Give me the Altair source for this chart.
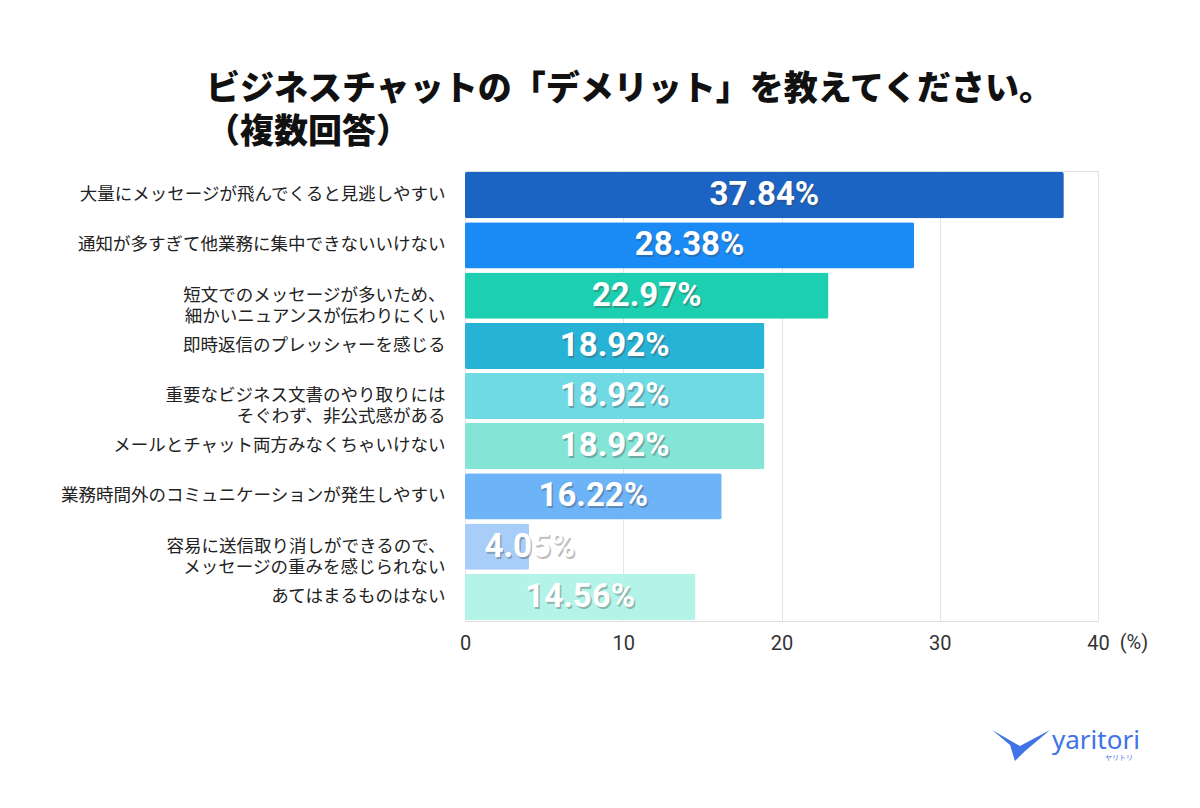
import altair as alt
import pandas as pd

categories = [
    "大量にメッセージが飛んでくると見逃しやすい",
    "通知が多すぎて他業務に集中できないいけない",
    "短文でのメッセージが多いため、|細かいニュアンスが伝わりにくい",
    "即時返信のプレッシャーを感じる",
    "重要なビジネス文書のやり取りには|そぐわず、非公式感がある",
    "メールとチャット両方みなくちゃいけない",
    "業務時間外のコミュニケーションが発生しやすい",
    "容易に送信取り消しができるので、|メッセージの重みを感じられない",
    "あてはまるものはない",
]
values = [37.84, 28.38, 22.97, 18.92, 18.92, 18.92, 16.22, 4.05, 14.56]
colors = ["#1c64c4", "#1a8af5", "#1ccfb1", "#27b3d5", "#70dae4",
          "#84e4d5", "#6cb3f8", "#a8cdf8", "#b4f4e8"]
x_ticks = [0, 10, 20, 30, 40]
title_lines = ["ビジネスチャットの「デメリット」を教えてください。", "（複数回答）"]
unit_label = "(%)"
logo_text = "yaritori"
logo_sub = "ヤリトリ"

df = pd.DataFrame({"item": categories, "value": values})
df["label"] = [f"{v:.2f}%" for v in values]

W, H = 633, 450
JP = "Noto Sans CJK JP"

y_enc = alt.Y(
    "item:N", sort=categories, title=None,
    scale=alt.Scale(paddingInner=0.08, paddingOuter=0.02),
    axis=alt.Axis(
        labelExpr="split(datum.label, '|')",
        labelFont=JP, labelFontSize=17.5, labelColor="#222222",
        labelLineHeight=21, labelPadding=20, labelLimit=500,
        ticks=False, domain=False, grid=False,
    ),
)
x_scale = alt.Scale(domain=[0, 40], nice=False)

base = alt.Chart(df)

bars = base.mark_bar(cornerRadius=2).encode(
    x=alt.X(
        "value:Q", scale=x_scale, title=None,
        axis=alt.Axis(
            values=x_ticks, labelFont="Roboto", labelFontSize=20,
            labelColor="#333333", labelPadding=12, ticks=False, domain=False,
            labelFlush=False,
            grid=True, gridColor="#e4e4e4", gridWidth=1,
        ),
    ),
    y=y_enc,
    color=alt.Color("item:N", sort=categories,
                    scale=alt.Scale(domain=categories, range=colors), legend=None),
)

label_base = base.transform_calculate(pos="max(datum.value / 2, 4.1)")

shadow = label_base.mark_text(
    font="Roboto", fontSize=33, fontWeight="bold", color="#444444",
    opacity=0.35, dx=1.5, dy=2,
).encode(x=alt.X("pos:Q", scale=x_scale), y=alt.Y("item:N", sort=categories), text="label:N")

labels = label_base.mark_text(
    font="Roboto", fontSize=33, fontWeight="bold", color="white",
).encode(x=alt.X("pos:Q", scale=x_scale), y=alt.Y("item:N", sort=categories), text="label:N")

unit = alt.Chart(pd.DataFrame({"t": [unit_label]})).mark_text(
    font="Roboto", fontSize=20, color="#333333", dx=36,
).encode(x=alt.datum(40, scale=x_scale), y=alt.value(H + 22), text="t:N")

logo_shape = alt.Chart(pd.DataFrame({"k": [0]})).mark_point(
    shape="M -0.93 -0.47 L 0 0.07 L 1 -0.47 L 0.17 0.23 L -0.17 0.57 L -0.33 0.03 Z",
    filled=True, color="#3f73e6", size=3600, opacity=1,
).encode(x=alt.value(555), y=alt.value(573))

logo_word = alt.Chart(pd.DataFrame({"t": [logo_text]})).mark_text(
    font="Noto Sans", fontSize=26, color="#3f73e6", align="left", baseline="alphabetic",
).encode(x=alt.value(587), y=alt.value(578), text="t:N")

logo_kana = alt.Chart(pd.DataFrame({"t": [logo_sub]})).mark_text(
    font=JP, fontSize=7, color="#3f73e6", align="left",
).encode(x=alt.value(640), y=alt.value(587), text="t:N")

chart = alt.layer(bars, shadow, labels, unit, logo_shape, logo_word, logo_kana).properties(
    width=W, height=H,
    title=alt.TitleParams(
        text=title_lines, font=JP, fontSize=34, fontWeight=900, color="#111111",
        anchor="start", frame="group", dx=-259, offset=21, lineHeight=43,
    ),
    autosize=alt.AutoSizeParams(type="none"),
    padding={"left": 457, "top": 163, "right": 60, "bottom": 180},
).configure_view(strokeOpacity=0, strokeWidth=0).configure(background="white")

chart.save("out.html", embed_options={"renderer": "svg", "actions": False})
